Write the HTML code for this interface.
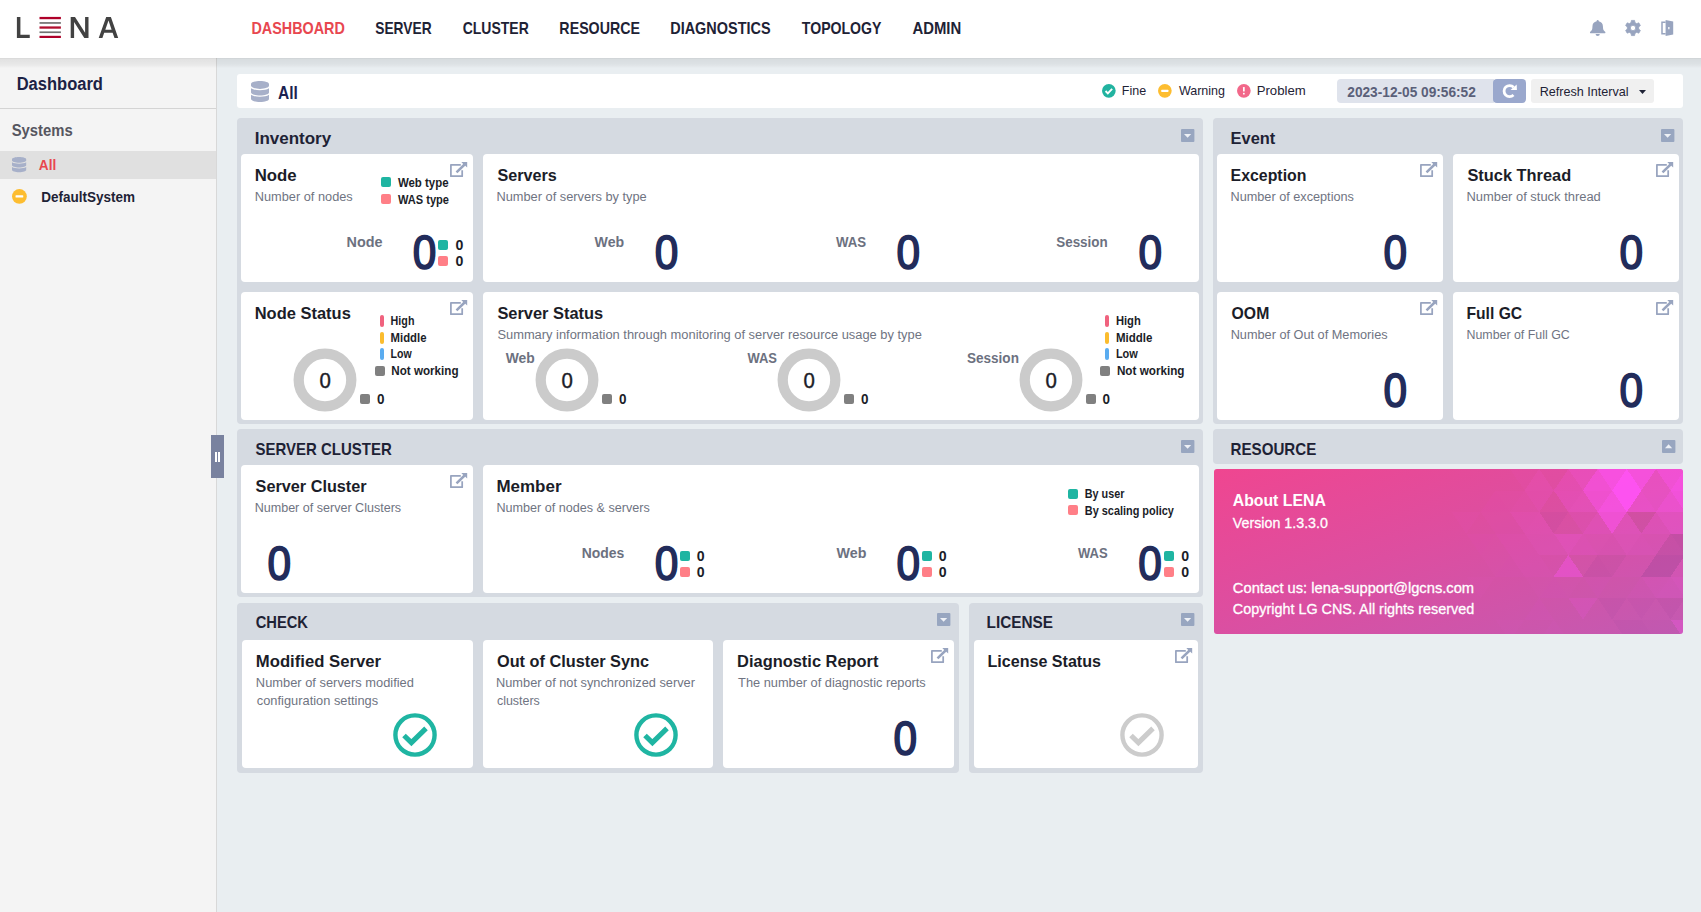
<!DOCTYPE html>
<html><head><meta charset="utf-8"><title>LENA Dashboard</title>
<style>
html,body{margin:0;padding:0;}
body{width:1701px;height:912px;overflow:hidden;background:#e9eef1;font-family:"Liberation Sans",sans-serif;position:relative;}
.a{position:absolute;}
.panel{position:absolute;background:#d5dae1;border-radius:4px;}
.card{position:absolute;background:#fff;border-radius:4px;}
.sq{position:absolute;width:10px;height:10px;border-radius:2px;}
.bar{position:absolute;width:4px;height:11.5px;border-radius:2px;}
svg{position:absolute;overflow:visible;}
#txt text{font-family:"Liberation Sans",sans-serif;white-space:pre;}
</style></head><body>
<div class="a" style="left:0px;top:58px;width:216px;height:854px;background:#f4f4f4;border-right:1px solid #d8d8d8;"></div>
<div class="a" style="left:0px;top:108px;width:216px;height:1px;background:#d4d4d4;"></div>
<div class="a" style="left:0px;top:151px;width:216px;height:28px;background:#e0e0e0;"></div>
<div class="a" style="left:0px;top:58px;width:1701px;height:10px;background:linear-gradient(to bottom,rgba(0,0,0,.13) 0,rgba(0,0,0,.075) 11%,rgba(0,0,0,.055) 55%,rgba(0,0,0,.03) 80%,rgba(0,0,0,0) 100%);"></div>
<div class="a" style="left:0px;top:0px;width:1701px;height:58px;background:#fff;"></div>
<div class="a" style="left:211px;top:435px;width:13px;height:43px;background:#79829f;"></div>
<div class="a" style="left:215.2px;top:452px;width:1.6px;height:10.2px;background:#fff;"></div>
<div class="a" style="left:218.2px;top:452px;width:1.6px;height:10.2px;background:#fff;"></div>
<svg style="left:0;top:0" width="130" height="58" viewBox="0 0 130 58">
<polygon fill="#424242" points="16.9,16.9 20.4,16.9 20.4,34.8 29.75,34.8 29.75,38 16.9,38"/>
<rect x="39.5" y="16.9" width="21.4" height="2.3" fill="#ae0029"/>
<rect x="39.5" y="22.1" width="21.4" height="1.7" fill="#727272"/>
<rect x="39.5" y="26.4" width="21.4" height="2.3" fill="#b01030"/>
<rect x="39.5" y="31.4" width="21.4" height="1.7" fill="#727272"/>
<rect x="39.5" y="35.8" width="21.4" height="2.2" fill="#ae0029"/>
<path fill="#424242" d="M70.7,16.9 h4.3 l10.1,15.9 v-15.9 h3.4 v21.1 h-4.2 l-10.2,-16 v16 h-3.4z"/>
<path fill="#424242" fill-rule="evenodd" d="M98.7,38 L106.2,16.9 H110.9 L118.2,38 H114.5 L112.6,32.8 H104.2 L102.4,38z M108.5,20.4 L105.3,29.8 H111.6z"/>
</svg>
<svg style="left:1590px;top:20px" width="15.4" height="16" viewBox="0 0 15.4 16">
<path fill="#98a4bf" d="M7.7,0 a1.05,1.05 0 0 1 1.05,1.05 v0.3 c2.7,0.5 4.2,2.5 4.2,5.1 c0,2.7 0.5,4 2.2,5.4 a0.85,0.85 0 0 1 -0.55,1.5 h-13.8 a0.85,0.85 0 0 1 -0.55,-1.5 c1.7,-1.4 2.2,-2.7 2.2,-5.4 c0,-2.6 1.5,-4.6 4.2,-5.1 v-0.3 a1.05,1.05 0 0 1 1.05,-1.05z M5.6,14.1 h4.2 a2.1,1.9 0 0 1 -4.2,0z"/></svg>
<svg style="left:1625px;top:20px" width="16" height="16" viewBox="0 0 16 16"><path fill="#98a4bf" fill-rule="evenodd" stroke="#98a4bf" stroke-width="0.8" stroke-linejoin="round" d="M6.09,2.58 L6.42,0.41 L9.58,0.41 L9.91,2.58 L11.74,3.64 L13.78,2.84 L15.36,5.57 L13.65,6.94 L13.65,9.06 L15.36,10.43 L13.78,13.16 L11.74,12.36 L9.91,13.42 L9.58,15.59 L6.42,15.59 L6.09,13.42 L4.26,12.36 L2.22,13.16 L0.64,10.43 L2.35,9.06 L2.35,6.94 L0.64,5.57 L2.22,2.84 L4.26,3.64z M10.70,8.00 a2.7,2.7 0 1 0 -5.4,0 a2.7,2.7 0 1 0 5.4,0z"/></svg>
<svg style="left:1661px;top:20px" width="13" height="16" viewBox="0 0 13 16">
<path fill="none" stroke="#98a4bf" stroke-width="1.5" d="M4.6,2.2 H1 V13.8 H4.6"/>
<path fill="#98a4bf" fill-rule="evenodd" d="M4.6,0 L12.2,1.4 V14.6 L4.6,16z M7.2,7 v2.2 h1.3 v-2.2z"/></svg>
<div class="a" style="left:237px;top:74px;width:1446px;height:34px;background:#fff;border-radius:3px;"></div>
<svg style="left:251px;top:81px" width="18" height="21" viewBox="0 0 448 512" preserveAspectRatio="none"><path fill="#a7b0c9" d="M448 73.143v45.714C448 159.143 347.667 192 224 192S0 159.143 0 118.857V73.143C0 32.857 100.333 0 224 0s224 32.857 224 73.143zM448 176v102.857C448 319.143 347.667 352 224 352S0 319.143 0 278.857V176c48.125 33.143 136.208 48.572 224 48.572S399.874 209.143 448 176zm0 160v102.857C448 479.143 347.667 512 224 512S0 479.143 0 438.857V336c48.125 33.143 136.208 48.572 224 48.572S399.874 369.143 448 336z"/></svg>
<svg style="left:11.8px;top:156.8px" width="14.2" height="15.3" viewBox="0 0 448 512" preserveAspectRatio="none"><path fill="#a7b0c9" d="M448 73.143v45.714C448 159.143 347.667 192 224 192S0 159.143 0 118.857V73.143C0 32.857 100.333 0 224 0s224 32.857 224 73.143zM448 176v102.857C448 319.143 347.667 352 224 352S0 319.143 0 278.857V176c48.125 33.143 136.208 48.572 224 48.572S399.874 209.143 448 176zm0 160v102.857C448 479.143 347.667 512 224 512S0 479.143 0 438.857V336c48.125 33.143 136.208 48.572 224 48.572S399.874 369.143 448 336z"/></svg>
<svg style="left:1102.3500000000001px;top:83.65px" width="13.7" height="13.7" viewBox="-10 -10 20 20"><circle r="10" fill="#22b3a0"/><path d="M-4.8,0.3 L-1.5,3.6 L4.8,-3" fill="none" stroke="#fff" stroke-width="2.8"/></svg>
<svg style="left:1157.95px;top:83.65px" width="13.7" height="13.7" viewBox="-10 -10 20 20"><circle r="10" fill="#fdbd30"/><rect x="-5.2" y="-1.6" width="10.4" height="3.2" rx="0.8" fill="#fff"/></svg>
<svg style="left:1236.8500000000001px;top:83.65px" width="13.7" height="13.7" viewBox="-10 -10 20 20"><circle r="10" fill="#f2688a"/><rect x="-1.25" y="-5.6" width="2.5" height="6.6" rx="0.8" fill="#fff"/><rect x="-1.25" y="2.7" width="2.5" height="2.7" rx="0.8" fill="#fff"/></svg>
<svg style="left:11.799999999999999px;top:189.0px" width="14.8" height="14.8" viewBox="-10 -10 20 20"><circle r="10" fill="#fdbd30"/><rect x="-5.2" y="-1.6" width="10.4" height="3.2" rx="0.8" fill="#fff"/></svg>
<div class="a" style="left:1337px;top:79px;width:157px;height:24px;background:#dfe3ec;border-radius:4px 0 0 4px;"></div>
<div class="a" style="left:1493px;top:79px;width:33px;height:24px;background:#9aa8cd;border-radius:4px;"></div>
<svg style="left:1501px;top:83px" width="17" height="16" viewBox="0 0 17 16"><path d="M12.6,4.3 A5.5,5.5 0 1 0 12.5,11.9" fill="none" stroke="#fff" stroke-width="2.8"/><path d="M9.5,7.1 H15.9 L15.7,1.6z" fill="#fff"/></svg>
<div class="a" style="left:1531px;top:79px;width:123px;height:24px;background:#f0f0f0;border-radius:3px;"></div>
<svg style="left:1638.5px;top:90px" width="7" height="4" viewBox="0 0 7 4"><path d="M0,0 H7 L3.5,4z" fill="#1e2235"/></svg>
<div class="panel" style="left:237px;top:118px;width:966px;height:306px;background:#d5dae1;"></div>
<div class="panel" style="left:1213px;top:118px;width:470px;height:306px;background:#d5dae1;"></div>
<div class="panel" style="left:237px;top:429px;width:966px;height:168px;background:#d5dae1;"></div>
<div class="panel" style="left:1213px;top:429px;width:470px;height:35px;background:#d5dae1;"></div>
<div class="panel" style="left:237px;top:603px;width:722px;height:170px;background:#d5dae1;"></div>
<div class="panel" style="left:969px;top:603px;width:234px;height:170px;background:#d5dae1;"></div>
<div class="card" style="left:241px;top:154px;width:232px;height:128px;background:#fff;"></div>
<div class="card" style="left:483px;top:154px;width:716px;height:128px;background:#fff;"></div>
<div class="card" style="left:241px;top:292px;width:232px;height:128px;background:#fff;"></div>
<div class="card" style="left:483px;top:292px;width:716px;height:128px;background:#fff;"></div>
<div class="card" style="left:1217px;top:154px;width:226px;height:128px;background:#fff;"></div>
<div class="card" style="left:1453px;top:154px;width:226px;height:128px;background:#fff;"></div>
<div class="card" style="left:1217px;top:292px;width:226px;height:128px;background:#fff;"></div>
<div class="card" style="left:1453px;top:292px;width:226px;height:128px;background:#fff;"></div>
<div class="card" style="left:241px;top:465px;width:232px;height:128px;background:#fff;"></div>
<div class="card" style="left:483px;top:465px;width:716px;height:128px;background:#fff;"></div>
<div class="card" style="left:242px;top:640px;width:231px;height:128px;background:#fff;"></div>
<div class="card" style="left:483px;top:640px;width:230px;height:128px;background:#fff;"></div>
<div class="card" style="left:723px;top:640px;width:231px;height:128px;background:#fff;"></div>
<div class="card" style="left:974px;top:640px;width:224px;height:128px;background:#fff;"></div>
<svg style="left:1181.1px;top:129.1px" width="13.4" height="13" viewBox="0 0 13 13" preserveAspectRatio="none"><rect width="13" height="13" rx="0.9" fill="#98a6c0"/><path d="M2.9,4.9 H9.9 L6.4,8.8z" fill="#eef1f6"/></svg>
<svg style="left:1661.3px;top:129.1px" width="13.4" height="13" viewBox="0 0 13 13" preserveAspectRatio="none"><rect width="13" height="13" rx="0.9" fill="#98a6c0"/><path d="M2.9,4.9 H9.9 L6.4,8.8z" fill="#eef1f6"/></svg>
<svg style="left:1181.1px;top:440.1px" width="13.4" height="13" viewBox="0 0 13 13" preserveAspectRatio="none"><rect width="13" height="13" rx="0.9" fill="#98a6c0"/><path d="M2.9,4.9 H9.9 L6.4,8.8z" fill="#eef1f6"/></svg>
<svg style="left:1661.6px;top:440.1px" width="13.4" height="13" viewBox="0 0 13 13" preserveAspectRatio="none"><rect width="13" height="13" rx="0.9" fill="#98a6c0"/><path d="M2.9,8.2 H9.9 L6.4,4.3z" fill="#eef1f6"/></svg>
<svg style="left:936.8px;top:612.9px" width="13.4" height="13" viewBox="0 0 13 13" preserveAspectRatio="none"><rect width="13" height="13" rx="0.9" fill="#98a6c0"/><path d="M2.9,4.9 H9.9 L6.4,8.8z" fill="#eef1f6"/></svg>
<svg style="left:1181px;top:612.9px" width="13.4" height="13" viewBox="0 0 13 13" preserveAspectRatio="none"><rect width="13" height="13" rx="0.9" fill="#98a6c0"/><path d="M2.9,4.9 H9.9 L6.4,8.8z" fill="#eef1f6"/></svg>
<svg style="left:449.9px;top:161.8px" width="17.2" height="15.2" viewBox="0 0 17.2 15.2"><path d="M10.8,2.85 H0.9 V14.2 H12.2 V8.2" fill="none" stroke="#98a4bf" stroke-width="1.75" stroke-linejoin="round"/><path d="M6.5,10.3 L14.6,2.5" fill="none" stroke="#98a4bf" stroke-width="2.5"/><path d="M11.3,0 H17.2 V5.6 L15.3,3.7 L13.2,1.9z" fill="#98a4bf"/></svg>
<svg style="left:449.9px;top:299.9px" width="17.2" height="15.2" viewBox="0 0 17.2 15.2"><path d="M10.8,2.85 H0.9 V14.2 H12.2 V8.2" fill="none" stroke="#98a4bf" stroke-width="1.75" stroke-linejoin="round"/><path d="M6.5,10.3 L14.6,2.5" fill="none" stroke="#98a4bf" stroke-width="2.5"/><path d="M11.3,0 H17.2 V5.6 L15.3,3.7 L13.2,1.9z" fill="#98a4bf"/></svg>
<svg style="left:1419.7px;top:161.8px" width="17.2" height="15.2" viewBox="0 0 17.2 15.2"><path d="M10.8,2.85 H0.9 V14.2 H12.2 V8.2" fill="none" stroke="#98a4bf" stroke-width="1.75" stroke-linejoin="round"/><path d="M6.5,10.3 L14.6,2.5" fill="none" stroke="#98a4bf" stroke-width="2.5"/><path d="M11.3,0 H17.2 V5.6 L15.3,3.7 L13.2,1.9z" fill="#98a4bf"/></svg>
<svg style="left:1655.7px;top:161.8px" width="17.2" height="15.2" viewBox="0 0 17.2 15.2"><path d="M10.8,2.85 H0.9 V14.2 H12.2 V8.2" fill="none" stroke="#98a4bf" stroke-width="1.75" stroke-linejoin="round"/><path d="M6.5,10.3 L14.6,2.5" fill="none" stroke="#98a4bf" stroke-width="2.5"/><path d="M11.3,0 H17.2 V5.6 L15.3,3.7 L13.2,1.9z" fill="#98a4bf"/></svg>
<svg style="left:1419.7px;top:299.9px" width="17.2" height="15.2" viewBox="0 0 17.2 15.2"><path d="M10.8,2.85 H0.9 V14.2 H12.2 V8.2" fill="none" stroke="#98a4bf" stroke-width="1.75" stroke-linejoin="round"/><path d="M6.5,10.3 L14.6,2.5" fill="none" stroke="#98a4bf" stroke-width="2.5"/><path d="M11.3,0 H17.2 V5.6 L15.3,3.7 L13.2,1.9z" fill="#98a4bf"/></svg>
<svg style="left:1655.7px;top:299.9px" width="17.2" height="15.2" viewBox="0 0 17.2 15.2"><path d="M10.8,2.85 H0.9 V14.2 H12.2 V8.2" fill="none" stroke="#98a4bf" stroke-width="1.75" stroke-linejoin="round"/><path d="M6.5,10.3 L14.6,2.5" fill="none" stroke="#98a4bf" stroke-width="2.5"/><path d="M11.3,0 H17.2 V5.6 L15.3,3.7 L13.2,1.9z" fill="#98a4bf"/></svg>
<svg style="left:449.9px;top:472.8px" width="17.2" height="15.2" viewBox="0 0 17.2 15.2"><path d="M10.8,2.85 H0.9 V14.2 H12.2 V8.2" fill="none" stroke="#98a4bf" stroke-width="1.75" stroke-linejoin="round"/><path d="M6.5,10.3 L14.6,2.5" fill="none" stroke="#98a4bf" stroke-width="2.5"/><path d="M11.3,0 H17.2 V5.6 L15.3,3.7 L13.2,1.9z" fill="#98a4bf"/></svg>
<svg style="left:930.8px;top:647.9px" width="17.2" height="15.2" viewBox="0 0 17.2 15.2"><path d="M10.8,2.85 H0.9 V14.2 H12.2 V8.2" fill="none" stroke="#98a4bf" stroke-width="1.75" stroke-linejoin="round"/><path d="M6.5,10.3 L14.6,2.5" fill="none" stroke="#98a4bf" stroke-width="2.5"/><path d="M11.3,0 H17.2 V5.6 L15.3,3.7 L13.2,1.9z" fill="#98a4bf"/></svg>
<svg style="left:1174.7px;top:647.8px" width="17.2" height="15.2" viewBox="0 0 17.2 15.2"><path d="M10.8,2.85 H0.9 V14.2 H12.2 V8.2" fill="none" stroke="#98a4bf" stroke-width="1.75" stroke-linejoin="round"/><path d="M6.5,10.3 L14.6,2.5" fill="none" stroke="#98a4bf" stroke-width="2.5"/><path d="M11.3,0 H17.2 V5.6 L15.3,3.7 L13.2,1.9z" fill="#98a4bf"/></svg>
<svg style="left:1214px;top:469px" width="469" height="165" viewBox="0 0 469 165">
<defs><linearGradient id="pg" x1="0" y1="0" x2="1" y2="1"><stop offset="0" stop-color="#ef4690"/><stop offset="0.45" stop-color="#dd4ea0"/><stop offset="1" stop-color="#c35ab2"/></linearGradient>
<clipPath id="pc"><rect width="469" height="165" rx="3"/></clipPath></defs>
<g clip-path="url(#pc)" shape-rendering="crispEdges"><rect width="469" height="165" fill="url(#pg)"/>
<polygon points="296.0,0.0 325.2,0.0 310.6,21.5" fill="#ff52f4" opacity="0.05"/><polygon points="325.2,0.0 310.6,21.5 339.8,21.5" fill="#ff52f4" opacity="0.13"/><polygon points="325.2,0.0 354.4,0.0 339.8,21.5" fill="#ff52f4" opacity="0.05"/><polygon points="354.4,0.0 339.8,21.5 369.0,21.5" fill="#ff52f4" opacity="0.19"/><polygon points="354.4,0.0 383.6,0.0 369.0,21.5" fill="#ff52f4" opacity="0.30"/><polygon points="383.6,0.0 369.0,21.5 398.2,21.5" fill="#ff52f4" opacity="0.60"/><polygon points="383.6,0.0 412.8,0.0 398.2,21.5" fill="#ff52f4" opacity="0.75"/><polygon points="412.8,0.0 398.2,21.5 427.4,21.5" fill="#ff52f4" opacity="0.95"/><polygon points="412.8,0.0 442.0,0.0 427.4,21.5" fill="#ff52f4" opacity="0.70"/><polygon points="442.0,0.0 427.4,21.5 456.6,21.5" fill="#ff52f4" opacity="0.36"/><polygon points="442.0,0.0 471.2,0.0 456.6,21.5" fill="#ff52f4" opacity="0.60"/><polygon points="471.2,0.0 456.6,21.5 485.8,21.5" fill="#ff52f4" opacity="0.72"/><polygon points="281.4,21.5 266.8,43.0 296.0,43.0" fill="#ff52f4" opacity="0.04"/><polygon points="281.4,21.5 310.6,21.5 296.0,43.0" fill="#ff52f4" opacity="0.03"/><polygon points="310.6,21.5 296.0,43.0 325.2,43.0" fill="#ff52f4" opacity="0.07"/><polygon points="310.6,21.5 339.8,21.5 325.2,43.0" fill="#ff52f4" opacity="0.12"/><polygon points="339.8,21.5 369.0,21.5 354.4,43.0" fill="#ff52f4" opacity="0.21"/><polygon points="369.0,21.5 354.4,43.0 383.6,43.0" fill="#ff52f4" opacity="0.25"/><polygon points="369.0,21.5 398.2,21.5 383.6,43.0" fill="#ff52f4" opacity="0.55"/><polygon points="398.2,21.5 383.6,43.0 412.8,43.0" fill="#ff52f4" opacity="0.70"/><polygon points="398.2,21.5 427.4,21.5 412.8,43.0" fill="#ff52f4" opacity="0.95"/><polygon points="427.4,21.5 412.8,43.0 442.0,43.0" fill="#ff52f4" opacity="0.42"/><polygon points="427.4,21.5 456.6,21.5 442.0,43.0" fill="#ff52f4" opacity="0.36"/><polygon points="456.6,21.5 442.0,43.0 471.2,43.0" fill="#ff52f4" opacity="0.50"/><polygon points="456.6,21.5 485.8,21.5 471.2,43.0" fill="#ff52f4" opacity="0.66"/><polygon points="237.6,43.0 266.8,43.0 252.2,64.5" fill="#ff52f4" opacity="0.03"/><polygon points="266.8,43.0 296.0,43.0 281.4,64.5" fill="#ff52f4" opacity="0.05"/><polygon points="296.0,43.0 281.4,64.5 310.6,64.5" fill="#ff52f4" opacity="0.05"/><polygon points="296.0,43.0 325.2,43.0 310.6,64.5" fill="#ff52f4" opacity="0.12"/><polygon points="325.2,43.0 310.6,64.5 339.8,64.5" fill="#ff52f4" opacity="0.14"/><polygon points="325.2,43.0 354.4,43.0 339.8,64.5" fill="#7a3590" opacity="0.05"/><polygon points="354.4,43.0 383.6,43.0 369.0,64.5" fill="#ff52f4" opacity="0.10"/><polygon points="383.6,43.0 369.0,64.5 398.2,64.5" fill="#ff52f4" opacity="0.20"/><polygon points="383.6,43.0 412.8,43.0 398.2,64.5" fill="#ff52f4" opacity="0.60"/><polygon points="412.8,43.0 398.2,64.5 427.4,64.5" fill="#ff52f4" opacity="0.22"/><polygon points="412.8,43.0 442.0,43.0 427.4,64.5" fill="#7a3590" opacity="0.05"/><polygon points="442.0,43.0 427.4,64.5 456.6,64.5" fill="#ff52f4" opacity="0.20"/><polygon points="442.0,43.0 471.2,43.0 456.6,64.5" fill="#ff52f4" opacity="0.30"/><polygon points="471.2,43.0 456.6,64.5 485.8,64.5" fill="#ff52f4" opacity="0.30"/><polygon points="252.2,64.5 281.4,64.5 266.8,86.0" fill="#ff52f4" opacity="0.05"/><polygon points="281.4,64.5 266.8,86.0 296.0,86.0" fill="#ff52f4" opacity="0.03"/><polygon points="281.4,64.5 310.6,64.5 296.0,86.0" fill="#ff52f4" opacity="0.08"/><polygon points="310.6,64.5 296.0,86.0 325.2,86.0" fill="#ff52f4" opacity="0.08"/><polygon points="310.6,64.5 339.8,64.5 325.2,86.0" fill="#ff52f4" opacity="0.12"/><polygon points="339.8,64.5 325.2,86.0 354.4,86.0" fill="#ff52f4" opacity="0.12"/><polygon points="339.8,64.5 369.0,64.5 354.4,86.0" fill="#ff52f4" opacity="0.23"/><polygon points="369.0,64.5 354.4,86.0 383.6,86.0" fill="#ff52f4" opacity="0.16"/><polygon points="369.0,64.5 398.2,64.5 383.6,86.0" fill="#ff52f4" opacity="0.12"/><polygon points="398.2,64.5 383.6,86.0 412.8,86.0" fill="#ff52f4" opacity="0.10"/><polygon points="398.2,64.5 427.4,64.5 412.8,86.0" fill="#ff52f4" opacity="0.18"/><polygon points="427.4,64.5 412.8,86.0 442.0,86.0" fill="#ff52f4" opacity="0.15"/><polygon points="427.4,64.5 456.6,64.5 442.0,86.0" fill="#ff52f4" opacity="0.12"/><polygon points="456.6,64.5 442.0,86.0 471.2,86.0" fill="#7a3590" opacity="0.10"/><polygon points="456.6,64.5 485.8,64.5 471.2,86.0" fill="#7a3590" opacity="0.15"/><polygon points="266.8,86.0 296.0,86.0 281.4,107.5" fill="#ff52f4" opacity="0.03"/><polygon points="296.0,86.0 281.4,107.5 310.6,107.5" fill="#ff52f4" opacity="0.04"/><polygon points="296.0,86.0 325.2,86.0 310.6,107.5" fill="#ff52f4" opacity="0.08"/><polygon points="325.2,86.0 310.6,107.5 339.8,107.5" fill="#ff52f4" opacity="0.08"/><polygon points="325.2,86.0 354.4,86.0 339.8,107.5" fill="#ff52f4" opacity="0.05"/><polygon points="354.4,86.0 339.8,107.5 369.0,107.5" fill="#ff52f4" opacity="0.38"/><polygon points="383.6,86.0 369.0,107.5 398.2,107.5" fill="#7a3590" opacity="0.08"/><polygon points="383.6,86.0 412.8,86.0 398.2,107.5" fill="#7a3590" opacity="0.05"/><polygon points="412.8,86.0 398.2,107.5 427.4,107.5" fill="#ff52f4" opacity="0.05"/><polygon points="412.8,86.0 442.0,86.0 427.4,107.5" fill="#ff52f4" opacity="0.05"/><polygon points="442.0,86.0 427.4,107.5 456.6,107.5" fill="#7a3590" opacity="0.18"/><polygon points="442.0,86.0 471.2,86.0 456.6,107.5" fill="#7a3590" opacity="0.18"/><polygon points="471.2,86.0 456.6,107.5 485.8,107.5" fill="#ff52f4" opacity="0.10"/><polygon points="252.2,107.5 281.4,107.5 266.8,129.0" fill="#ff52f4" opacity="0.03"/><polygon points="310.6,107.5 339.8,107.5 325.2,129.0" fill="#ff52f4" opacity="0.03"/><polygon points="339.8,107.5 325.2,129.0 354.4,129.0" fill="#ff52f4" opacity="0.04"/><polygon points="339.8,107.5 369.0,107.5 354.4,129.0" fill="#ff52f4" opacity="0.03"/><polygon points="369.0,107.5 398.2,107.5 383.6,129.0" fill="#ff52f4" opacity="0.04"/><polygon points="427.4,107.5 412.8,129.0 442.0,129.0" fill="#ff52f4" opacity="0.05"/><polygon points="427.4,107.5 456.6,107.5 442.0,129.0" fill="#ff52f4" opacity="0.10"/><polygon points="456.6,107.5 442.0,129.0 471.2,129.0" fill="#ff52f4" opacity="0.12"/><polygon points="456.6,107.5 485.8,107.5 471.2,129.0" fill="#ff52f4" opacity="0.18"/><polygon points="325.2,129.0 310.6,150.5 339.8,150.5" fill="#ff52f4" opacity="0.04"/><polygon points="354.4,129.0 383.6,129.0 369.0,150.5" fill="#ff52f4" opacity="0.12"/><polygon points="383.6,129.0 412.8,129.0 398.2,150.5" fill="#7a3590" opacity="0.05"/><polygon points="412.8,129.0 442.0,129.0 427.4,150.5" fill="#7a3590" opacity="0.04"/><polygon points="442.0,129.0 471.2,129.0 456.6,150.5" fill="#7a3590" opacity="0.06"/><polygon points="281.4,150.5 310.6,150.5 296.0,172.0" fill="#ff52f4" opacity="0.03"/><polygon points="339.8,150.5 325.2,172.0 354.4,172.0" fill="#ff52f4" opacity="0.03"/><polygon points="398.2,150.5 427.4,150.5 412.8,172.0" fill="#7a3590" opacity="0.05"/><polygon points="427.4,150.5 412.8,172.0 442.0,172.0" fill="#7a3590" opacity="0.05"/><polygon points="427.4,150.5 456.6,150.5 442.0,172.0" fill="#7a3590" opacity="0.03"/><polygon points="456.6,150.5 442.0,172.0 471.2,172.0" fill="#7a3590" opacity="0.03"/><polygon points="456.6,150.5 485.8,150.5 471.2,172.0" fill="#ff52f4" opacity="0.25"/></g></svg>
<div class="sq" style="left:381px;top:177px;background:#1fb5a2"></div>
<div class="sq" style="left:381px;top:194.2px;background:#ff7f87"></div>
<div class="sq" style="left:438.2px;top:240px;background:#1fb5a2"></div>
<div class="sq" style="left:438.2px;top:256px;background:#ff7f87"></div>
<div class="bar" style="left:380.1px;top:315px;background:#f0627e"></div>
<div class="bar" style="left:380.1px;top:332px;background:#fbbc2e"></div>
<div class="bar" style="left:380.1px;top:348.2px;background:#5aacf0"></div>
<div class="bar" style="left:1105px;top:315px;background:#f0627e"></div>
<div class="bar" style="left:1105px;top:332px;background:#fbbc2e"></div>
<div class="bar" style="left:1105px;top:348.2px;background:#5aacf0"></div>
<div class="sq" style="left:375.2px;top:366.2px;background:#808080"></div>
<div class="sq" style="left:1100.2px;top:366.2px;background:#808080"></div>
<div class="sq" style="left:1068.2px;top:488.5px;background:#1fb5a2"></div>
<div class="sq" style="left:1068.2px;top:505.2px;background:#ff7f87"></div>
<div class="sq" style="left:680.3px;top:551.2px;background:#1fb5a2"></div>
<div class="sq" style="left:680.3px;top:567.1px;background:#ff7f87"></div>
<div class="sq" style="left:922.1px;top:551.2px;background:#1fb5a2"></div>
<div class="sq" style="left:922.1px;top:567.1px;background:#ff7f87"></div>
<div class="sq" style="left:1164px;top:551.2px;background:#1fb5a2"></div>
<div class="sq" style="left:1164px;top:567.1px;background:#ff7f87"></div>
<svg style="left:293.2px;top:348px" width="64" height="64" viewBox="-32 -32 64 64"><circle r="26.3" fill="none" stroke="#cbcbcb" stroke-width="10.3"/></svg>
<div class="sq" style="left:360.2px;top:394.1px;background:#808080"></div>
<svg style="left:535.1px;top:348px" width="64" height="64" viewBox="-32 -32 64 64"><circle r="26.3" fill="none" stroke="#cbcbcb" stroke-width="10.3"/></svg>
<div class="sq" style="left:602.1px;top:394.1px;background:#808080"></div>
<svg style="left:777.1px;top:348px" width="64" height="64" viewBox="-32 -32 64 64"><circle r="26.3" fill="none" stroke="#cbcbcb" stroke-width="10.3"/></svg>
<div class="sq" style="left:844.1px;top:394.1px;background:#808080"></div>
<svg style="left:1019.0999999999999px;top:348px" width="64" height="64" viewBox="-32 -32 64 64"><circle r="26.3" fill="none" stroke="#cbcbcb" stroke-width="10.3"/></svg>
<div class="sq" style="left:1086.1px;top:394.1px;background:#808080"></div>
<svg style="left:391.9px;top:712px" width="46" height="46" viewBox="-23 -23 46 46"><circle r="19.6" fill="none" stroke="#1fb5a2" stroke-width="4.4"/><path d="M-11,0.5 L-3.6,7.6 L11,-6.6" fill="none" stroke="#1fb5a2" stroke-width="5.1"/></svg>
<svg style="left:632.5px;top:712px" width="46" height="46" viewBox="-23 -23 46 46"><circle r="19.6" fill="none" stroke="#1fb5a2" stroke-width="4.4"/><path d="M-11,0.5 L-3.6,7.6 L11,-6.6" fill="none" stroke="#1fb5a2" stroke-width="5.1"/></svg>
<svg style="left:1118.5px;top:712px" width="46" height="46" viewBox="-23 -23 46 46"><circle r="19.6" fill="none" stroke="#cccccc" stroke-width="4.4"/><path d="M-11,0.5 L-3.6,7.6 L11,-6.6" fill="none" stroke="#cccccc" stroke-width="5.1"/></svg>
<svg id="txt" style="left:0;top:0" width="1701" height="912" viewBox="0 0 1701 912">
<text transform="translate(251.46,34.1) scale(0.8388,1)" font-size="17.15" font-weight="700" fill="#e8474f">DASHBOARD</text>
<text transform="translate(375.20,34.1) scale(0.8037,1)" font-size="17.15" font-weight="700" fill="#1e2235">SERVER</text>
<text transform="translate(462.70,34.1) scale(0.8166,1)" font-size="17.15" font-weight="700" fill="#1e2235">CLUSTER</text>
<text transform="translate(559.37,34.1) scale(0.8296,1)" font-size="17.15" font-weight="700" fill="#1e2235">RESOURCE</text>
<text transform="translate(670.26,34.1) scale(0.8426,1)" font-size="17.15" font-weight="700" fill="#1e2235">DIAGNOSTICS</text>
<text transform="translate(801.80,34.1) scale(0.8235,1)" font-size="17.15" font-weight="700" fill="#1e2235">TOPOLOGY</text>
<text transform="translate(912.50,34.1) scale(0.8674,1)" font-size="17.15" font-weight="700" fill="#1e2235">ADMIN</text>
<text transform="translate(16.68,89.6) scale(0.9237,1)" font-size="17.88" font-weight="700" fill="#1c2245">Dashboard</text>
<text transform="translate(11.70,135.6) scale(0.9199,1)" font-size="16.13" font-weight="700" fill="#56565f">Systems</text>
<text transform="translate(38.80,169.8) scale(0.9496,1)" font-size="14.39" font-weight="700" fill="#e8474f">All</text>
<text transform="translate(41.30,201.9) scale(0.9306,1)" font-size="14.53" font-weight="700" fill="#1e2235">DefaultSystem</text>
<text transform="translate(278.00,98.6) scale(0.8910,1)" font-size="17.44" font-weight="700" fill="#1b2150">All</text>
<text transform="translate(1121.82,94.7) scale(0.9766,1)" font-size="12.79" fill="#1e2235">Fine</text>
<text transform="translate(1178.90,94.7) scale(0.9785,1)" font-size="12.79" fill="#1e2235">Warning</text>
<text transform="translate(1256.67,94.7) scale(1.0295,1)" font-size="12.79" fill="#1e2235">Problem</text>
<text transform="translate(1347.30,97) scale(0.9150,1)" font-size="14.97" font-weight="700" fill="#5a6079">2023-12-05 09:56:52</text>
<text transform="translate(1539.66,95.9) scale(0.9429,1)" font-size="13.37" fill="#1e2235">Refresh Interval</text>
<text transform="translate(254.70,144.2) scale(0.9992,1)" font-size="17.01" font-weight="700" fill="#1e2235">Inventory</text>
<text transform="translate(1230.53,143.9) scale(0.9664,1)" font-size="17.01" font-weight="700" fill="#1e2235">Event</text>
<text transform="translate(255.60,455) scale(0.8806,1)" font-size="17.01" font-weight="700" fill="#1e2235">SERVER CLUSTER</text>
<text transform="translate(1230.61,454.7) scale(0.8894,1)" font-size="17.01" font-weight="700" fill="#1e2235">RESOURCE</text>
<text transform="translate(255.70,628.1) scale(0.8648,1)" font-size="17.01" font-weight="700" fill="#1e2235">CHECK</text>
<text transform="translate(986.60,627.8) scale(0.9013,1)" font-size="17.01" font-weight="700" fill="#1e2235">LICENSE</text>
<text transform="translate(254.70,180.7) scale(1.0033,1)" font-size="16.72" font-weight="700" fill="#1b1d28">Node</text>
<text transform="translate(497.40,180.7) scale(0.9671,1)" font-size="16.72" font-weight="700" fill="#1b1d28">Servers</text>
<text transform="translate(254.71,318.7) scale(0.9859,1)" font-size="16.72" font-weight="700" fill="#1b1d28">Node Status</text>
<text transform="translate(497.40,318.7) scale(0.9822,1)" font-size="16.72" font-weight="700" fill="#1b1d28">Server Status</text>
<text transform="translate(1230.55,180.7) scale(0.9514,1)" font-size="16.72" font-weight="700" fill="#1b1d28">Exception</text>
<text transform="translate(1467.40,180.7) scale(0.9800,1)" font-size="16.72" font-weight="700" fill="#1b1d28">Stuck Thread</text>
<text transform="translate(1231.60,318.7) scale(0.9440,1)" font-size="16.72" font-weight="700" fill="#1b1d28">OOM</text>
<text transform="translate(1466.46,318.7) scale(0.9379,1)" font-size="16.72" font-weight="700" fill="#1b1d28">Full GC</text>
<text transform="translate(255.60,491.9) scale(0.9721,1)" font-size="16.72" font-weight="700" fill="#1b1d28">Server Cluster</text>
<text transform="translate(496.38,491.9) scale(1.0166,1)" font-size="16.72" font-weight="700" fill="#1b1d28">Member</text>
<text transform="translate(255.80,666.6) scale(0.9992,1)" font-size="16.72" font-weight="700" fill="#1b1d28">Modified Server</text>
<text transform="translate(497.00,666.6) scale(0.9748,1)" font-size="16.72" font-weight="700" fill="#1b1d28">Out of Cluster Sync</text>
<text transform="translate(737.12,666.6) scale(0.9820,1)" font-size="16.72" font-weight="700" fill="#1b1d28">Diagnostic Report</text>
<text transform="translate(987.54,666.8) scale(0.9614,1)" font-size="16.72" font-weight="700" fill="#1b1d28">License Status</text>
<text transform="translate(254.73,201.1) scale(0.9664,1)" font-size="13.23" fill="#6f7482">Number of nodes</text>
<text transform="translate(496.43,201.2) scale(0.9697,1)" font-size="13.23" fill="#6f7482">Number of servers by type</text>
<text transform="translate(497.40,339.1) scale(0.9744,1)" font-size="13.23" fill="#6f7482">Summary information through monitoring of server resource usage by type</text>
<text transform="translate(1230.54,201.1) scale(0.9596,1)" font-size="13.23" fill="#6f7482">Number of exceptions</text>
<text transform="translate(1466.42,201.1) scale(0.9777,1)" font-size="13.23" fill="#6f7482">Number of stuck thread</text>
<text transform="translate(1230.64,339.1) scale(0.9626,1)" font-size="13.23" fill="#6f7482">Number of Out of Memories</text>
<text transform="translate(1466.46,339.1) scale(0.9376,1)" font-size="13.23" fill="#6f7482">Number of Full GC</text>
<text transform="translate(254.65,512.1) scale(0.9495,1)" font-size="13.23" fill="#6f7482">Number of server Clusters</text>
<text transform="translate(496.45,512.1) scale(0.9533,1)" font-size="13.23" fill="#6f7482">Number of nodes &amp; servers</text>
<text transform="translate(255.83,687) scale(0.9739,1)" font-size="13.23" fill="#6f7482">Number of servers modified</text>
<text transform="translate(256.80,704.9) scale(0.9720,1)" font-size="13.23" fill="#6f7482">configuration settings</text>
<text transform="translate(496.03,687) scale(0.9673,1)" font-size="13.23" fill="#6f7482">Number of not synchronized server</text>
<text transform="translate(496.90,704.9) scale(0.9427,1)" font-size="13.23" fill="#6f7482">clusters</text>
<text transform="translate(738.10,687) scale(0.9678,1)" font-size="13.23" fill="#6f7482">The number of diagnostic reports</text>
<text transform="translate(346.50,246.8) scale(0.9722,1)" font-size="14.83" font-weight="700" fill="#6c717f">Node</text>
<text transform="translate(594.60,246.8) scale(0.9524,1)" font-size="14.83" font-weight="700" fill="#6c717f">Web</text>
<text transform="translate(836.00,246.8) scale(0.8942,1)" font-size="14.83" font-weight="700" fill="#6c717f">WAS</text>
<text transform="translate(1056.20,246.8) scale(0.9066,1)" font-size="14.83" font-weight="700" fill="#6c717f">Session</text>
<text transform="translate(505.70,362.5) scale(0.9363,1)" font-size="14.83" font-weight="700" fill="#6c717f">Web</text>
<text transform="translate(747.40,362.5) scale(0.8765,1)" font-size="14.83" font-weight="700" fill="#6c717f">WAS</text>
<text transform="translate(967.00,362.5) scale(0.9136,1)" font-size="14.83" font-weight="700" fill="#6c717f">Session</text>
<text transform="translate(581.70,557.9) scale(0.9408,1)" font-size="14.83" font-weight="700" fill="#6c717f">Nodes</text>
<text transform="translate(836.50,557.9) scale(0.9621,1)" font-size="14.83" font-weight="700" fill="#6c717f">Web</text>
<text transform="translate(1077.90,557.9) scale(0.8794,1)" font-size="14.83" font-weight="700" fill="#6c717f">WAS</text>
<text transform="translate(412.67,269.0) scale(0.8833,1)" font-size="48.0" fill="#222c5b" stroke="#222c5b" stroke-width="1.7" stroke-linejoin="round">0</text>
<text transform="translate(654.87,269.0) scale(0.8833,1)" font-size="48.0" fill="#222c5b" stroke="#222c5b" stroke-width="1.7" stroke-linejoin="round">0</text>
<text transform="translate(896.57,269.0) scale(0.8833,1)" font-size="48.0" fill="#222c5b" stroke="#222c5b" stroke-width="1.7" stroke-linejoin="round">0</text>
<text transform="translate(1138.57,269.0) scale(0.8833,1)" font-size="48.0" fill="#222c5b" stroke="#222c5b" stroke-width="1.7" stroke-linejoin="round">0</text>
<text transform="translate(1383.47,269.0) scale(0.8833,1)" font-size="48.0" fill="#222c5b" stroke="#222c5b" stroke-width="1.7" stroke-linejoin="round">0</text>
<text transform="translate(1619.47,269.0) scale(0.8833,1)" font-size="48.0" fill="#222c5b" stroke="#222c5b" stroke-width="1.7" stroke-linejoin="round">0</text>
<text transform="translate(1383.47,407.0) scale(0.8833,1)" font-size="48.0" fill="#222c5b" stroke="#222c5b" stroke-width="1.7" stroke-linejoin="round">0</text>
<text transform="translate(1619.47,407.0) scale(0.8833,1)" font-size="48.0" fill="#222c5b" stroke="#222c5b" stroke-width="1.7" stroke-linejoin="round">0</text>
<text transform="translate(267.57,580.4) scale(0.8833,1)" font-size="48.0" fill="#222c5b" stroke="#222c5b" stroke-width="1.7" stroke-linejoin="round">0</text>
<text transform="translate(654.77,580.4) scale(0.8833,1)" font-size="48.0" fill="#222c5b" stroke="#222c5b" stroke-width="1.7" stroke-linejoin="round">0</text>
<text transform="translate(896.47,580.4) scale(0.8833,1)" font-size="48.0" fill="#222c5b" stroke="#222c5b" stroke-width="1.7" stroke-linejoin="round">0</text>
<text transform="translate(1138.37,580.4) scale(0.8833,1)" font-size="48.0" fill="#222c5b" stroke="#222c5b" stroke-width="1.7" stroke-linejoin="round">0</text>
<text transform="translate(893.57,755.0) scale(0.8833,1)" font-size="48.0" fill="#222c5b" stroke="#222c5b" stroke-width="1.7" stroke-linejoin="round">0</text>
<text transform="translate(455.40,249.7) scale(0.9375,1)" font-size="15.1" font-weight="700" fill="#1b1d28">0</text>
<text transform="translate(455.40,265.70000000000005) scale(0.9375,1)" font-size="15.1" font-weight="700" fill="#1b1d28">0</text>
<text transform="translate(696.80,560.6) scale(0.9375,1)" font-size="15.1" font-weight="700" fill="#1b1d28">0</text>
<text transform="translate(696.80,576.8000000000001) scale(0.9375,1)" font-size="15.1" font-weight="700" fill="#1b1d28">0</text>
<text transform="translate(938.80,560.6) scale(0.9375,1)" font-size="15.1" font-weight="700" fill="#1b1d28">0</text>
<text transform="translate(938.80,576.8000000000001) scale(0.9375,1)" font-size="15.1" font-weight="700" fill="#1b1d28">0</text>
<text transform="translate(1181.20,560.6) scale(0.9375,1)" font-size="15.1" font-weight="700" fill="#1b1d28">0</text>
<text transform="translate(1181.20,576.8000000000001) scale(0.9375,1)" font-size="15.1" font-weight="700" fill="#1b1d28">0</text>
<text transform="translate(377.10,403.6) scale(0.9125,1)" font-size="14.8" font-weight="700" fill="#1b1d28">0</text>
<text transform="translate(619.00,403.6) scale(0.9125,1)" font-size="14.8" font-weight="700" fill="#1b1d28">0</text>
<text transform="translate(861.00,403.6) scale(0.9125,1)" font-size="14.8" font-weight="700" fill="#1b1d28">0</text>
<text transform="translate(1102.60,403.6) scale(0.9125,1)" font-size="14.8" font-weight="700" fill="#1b1d28">0</text>
<text transform="translate(319.60,388.1) scale(0.9333,1)" font-size="21.9" fill="#1b1d28" stroke="#1b1d28" stroke-width="0.4" stroke-linejoin="round">0</text>
<text transform="translate(561.40,388.1) scale(0.9333,1)" font-size="21.9" fill="#1b1d28" stroke="#1b1d28" stroke-width="0.4" stroke-linejoin="round">0</text>
<text transform="translate(803.40,388.1) scale(0.9333,1)" font-size="21.9" fill="#1b1d28" stroke="#1b1d28" stroke-width="0.4" stroke-linejoin="round">0</text>
<text transform="translate(1045.40,388.1) scale(0.9333,1)" font-size="21.9" fill="#1b1d28" stroke="#1b1d28" stroke-width="0.4" stroke-linejoin="round">0</text>
<text transform="translate(397.90,186.7) scale(0.8943,1)" font-size="12.79" font-weight="700" fill="#1b1d28">Web type</text>
<text transform="translate(397.90,203.9) scale(0.8668,1)" font-size="12.79" font-weight="700" fill="#1b1d28">WAS type</text>
<text transform="translate(390.60,324.6) scale(0.8395,1)" font-size="12.79" font-weight="700" fill="#1b1d28">High</text>
<text transform="translate(390.60,341.7) scale(0.8869,1)" font-size="12.79" font-weight="700" fill="#1b1d28">Middle</text>
<text transform="translate(390.60,357.8) scale(0.8277,1)" font-size="12.79" font-weight="700" fill="#1b1d28">Low</text>
<text transform="translate(391.30,375) scale(0.9105,1)" font-size="12.79" font-weight="700" fill="#1b1d28">Not working</text>
<text transform="translate(1115.90,324.6) scale(0.8745,1)" font-size="12.79" font-weight="700" fill="#1b1d28">High</text>
<text transform="translate(1115.90,341.7) scale(0.8993,1)" font-size="12.79" font-weight="700" fill="#1b1d28">Middle</text>
<text transform="translate(1115.90,357.8) scale(0.8589,1)" font-size="12.79" font-weight="700" fill="#1b1d28">Low</text>
<text transform="translate(1116.90,375) scale(0.9160,1)" font-size="12.79" font-weight="700" fill="#1b1d28">Not working</text>
<text transform="translate(1084.80,497.9) scale(0.8462,1)" font-size="12.79" font-weight="700" fill="#1b1d28">By user</text>
<text transform="translate(1084.80,515.1) scale(0.8537,1)" font-size="12.79" font-weight="700" fill="#1b1d28">By scaling policy</text>
<text transform="translate(1232.70,505.8) scale(0.9564,1)" font-size="16.57" font-weight="700" fill="#fff">About LENA</text>
<text transform="translate(1232.85,527.7) scale(0.9524,1)" font-size="14.97" fill="#fff" stroke="#fff" stroke-width="0.3" stroke-linejoin="round">Version 1.3.3.0</text>
<text transform="translate(1232.85,593.3) scale(0.9829,1)" font-size="14.97" fill="#fff" stroke="#fff" stroke-width="0.3" stroke-linejoin="round">Contact us: lena-support@lgcns.com</text>
<text transform="translate(1232.85,613.9) scale(0.9613,1)" font-size="14.97" fill="#fff" stroke="#fff" stroke-width="0.3" stroke-linejoin="round">Copyright LG CNS. All rights reserved</text>
</svg>
</body></html>
